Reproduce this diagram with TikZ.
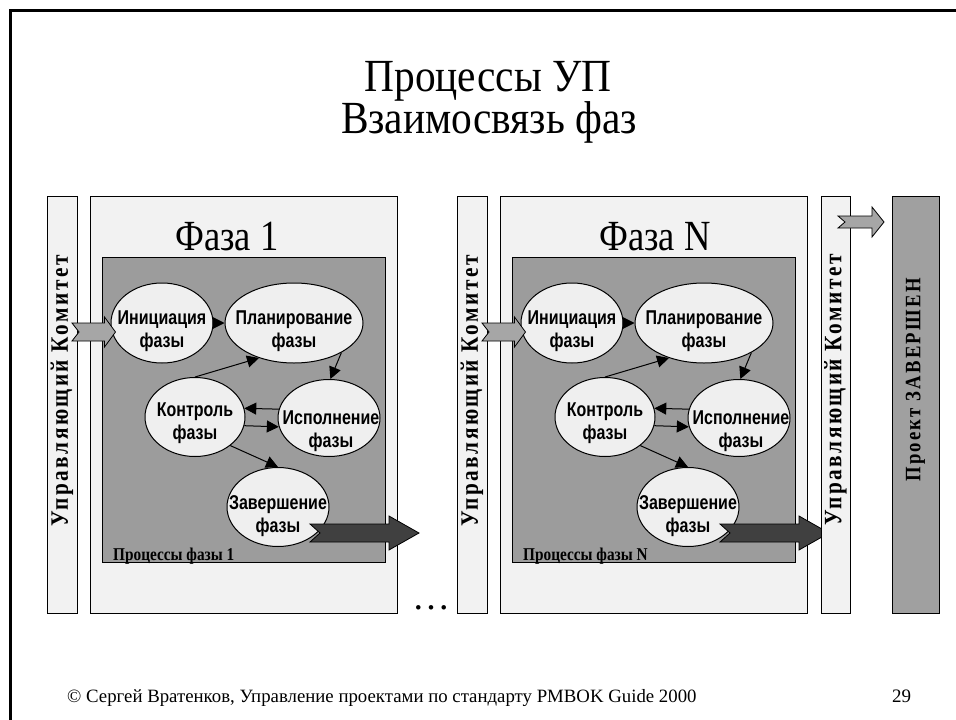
\documentclass[tikz,border=0pt]{standalone}
\usepackage{fontspec}
\setmainfont{Liberation Serif}
\newfontfamily\titleserif[FakeStretch=0.9]{Liberation Serif}
\newfontfamily\narrowserif[FakeStretch=0.85]{Liberation Serif}
\newfontfamily\spacedserif[FakeStretch=0.85,LetterSpace=10]{Liberation Serif}
\newfontfamily\narrowsans[FakeStretch=0.8]{Liberation Sans}
\usetikzlibrary{shapes.geometric,arrows.meta,calc}

\definecolor{paleg}{HTML}{F2F2F2}
\definecolor{midg}{HTML}{9C9C9C}
\definecolor{ellg}{HTML}{EFEFEF}
\definecolor{arrg}{HTML}{A6A6A6}
\definecolor{darkg}{HTML}{404040}
\definecolor{doneg}{HTML}{A0A0A0}

% block arrow: [style]{from}{to}{shaft half}{head half}{head length}{notch}
\newcommand\blockarrow[7][]{%
  \filldraw[#1] let \p1=(#2), \p2=(#3) in
    (\x1,\y1+#4) -- (\x2-#6,\y1+#4) -- (\x2-#6,\y1+#5) -- (\x2,\y1)
    -- (\x2-#6,\y1-#5) -- (\x2-#6,\y1-#4) -- (\x1,\y1-#4) -- (\x1+#7,\y1) -- cycle;}

\begin{document}
\begin{tikzpicture}[x=1pt, y=-1pt, >={Triangle[length=12pt,width=12pt]},
    colbox/.style={draw, line width=1.2pt, fill=paleg, anchor=north west, inner sep=0pt},
    procbox/.style={colbox, fill=midg},
    proc/.style={ellipse, draw, line width=1pt, fill=ellg, inner sep=0pt},
    proctext/.style={font=\narrowsans\bfseries\fontsize{20}{23}\selectfont, align=center, inner sep=0pt},
    vtext/.style={rotate=90, inner sep=0pt, font=\spacedserif\bfseries\fontsize{25}{25}\selectfont},
    flow/.style={->, line width=1pt},
    lightarr/.style={fill=arrg, draw=black, line width=0.8pt},
    darkarr/.style={fill=darkg, draw=black, line width=0.8pt}]
  \useasboundingbox (0,0) rectangle (956,720);

  % slide frame
  \draw[line width=3pt] (10,722) -- (10,10) -- (958,10);

  % title
  \node[anchor=base, font=\titleserif\fontsize{46}{46}\selectfont] (title1) at (488,91) {Процессы УП};
  \node[anchor=base, font=\titleserif\fontsize{46}{46}\selectfont] (title2) at (489,133) {Взаимосвязь фаз};

  % phases
  \foreach \ph/\dx/\fx in {1/0/227,N/410/245} {
    \begin{scope}[xshift=\dx]
      \node[colbox, minimum width=30, minimum height=417] (upr\ph) at (47,196) {};
      \node[vtext] (uprT\ph) at (62,391) {Управляющий Комитет};
      \node[colbox, minimum width=307, minimum height=417] (faz\ph) at (90,196) {};
      \node[anchor=base, font=\narrowserif\fontsize{43}{43}\selectfont] (fazT\ph) at (\fx,250) {Фаза \ph};
      \node[procbox, minimum width=283, minimum height=305] (prc\ph) at (102,257) {};
      \node[anchor=base west, inner sep=0pt, font=\narrowserif\bfseries\fontsize{18}{18}\selectfont] (prcT\ph) at (113,560) {Процессы фазы \ph};

      \node[proc, minimum width=102, minimum height=80] (ini\ph) at (162,323) {};
      \node[proc, minimum width=138, minimum height=80] (pla\ph) at (294,323) {};
      \node[proc, minimum width=100, minimum height=79] (kon\ph) at (195,417) {};
      \node[proc, minimum width=102, minimum height=77] (isp\ph) at (329,418) {};
      \node[proc, minimum width=102, minimum height=79] (zav\ph) at (278,507) {};

      \node[proctext] (iniT\ph) at ($(ini\ph)+(0,8)$) {Инициация\\фазы};
      \node[proctext] (plaT\ph) at ($(pla\ph)+(0,8)$) {Планирование\\фазы};
      \node[proctext] (konT\ph) at ($(kon\ph)+(0,6)$) {Контроль\\фазы};
      \node[proctext] (ispT\ph) at ($(isp\ph)+(2,13)$) {Исполнение\\фазы};
      \node[proctext] (zavT\ph) at ($(zav\ph)+(0,9)$) {Завершение\\фазы};

      \draw[flow] (ini\ph.east) -- (pla\ph.west);
      \draw[flow] (kon\ph.north) -- (pla\ph.225);
      \draw[flow] (pla\ph.328) -- (isp\ph.88);
      \draw[flow] (isp\ph.170) -- (kon\ph.10);
      \draw[flow] (kon\ph.350) -- (isp\ph.190);
      \draw[flow] (kon\ph.321) -- (zav\ph.north);

      \coordinate (inS\ph) at (72,332);
      \coordinate (inE\ph) at ($(ini\ph.west |- inS\ph)+(5,0)$);
      \coordinate (outS\ph) at (310,533);
      \coordinate (outE\ph) at (419,533);
      \blockarrow[lightarr]{inS\ph}{inE\ph}{9pt}{15pt}{11pt}{7pt}
      \blockarrow[darkarr]{outS\ph}{outE\ph}{9pt}{17pt}{30pt}{10pt}
    \end{scope}
  }

  \node[anchor=base, font=\fontsize{38}{38}\selectfont] (dots) at (431,609) {…};

  % last committee and finished project
  \node[colbox, minimum width=29, minimum height=417] (upr3) at (821,196) {};
  \node[vtext] (uprT3) at (835.5,390) {Управляющий Комитет};
  \node[colbox, fill=doneg, minimum width=47, minimum height=417] (done) at (892,196) {};
  \node[vtext, font=\spacedserif\bfseries\fontsize{22}{22}\selectfont] (doneT) at (915.5,380) {Проект ЗАВЕРШЕН};
  \coordinate (finS) at (838,222);
  \coordinate (finE) at (884,222);
  \blockarrow[lightarr]{finS}{finE}{6pt}{15pt}{12pt}{7pt}

  % footer
  \node[anchor=base west, inner sep=0pt, font=\fontsize{18.8}{19}\selectfont] (foot) at (67,702) {© Сергей Вратенков, Управление проектами по стандарту PMBOK Guide 2000};
  \node[anchor=base west, inner sep=0pt, font=\fontsize{19}{19}\selectfont] (page) at (892,702) {29};
\end{tikzpicture}
\end{document}
